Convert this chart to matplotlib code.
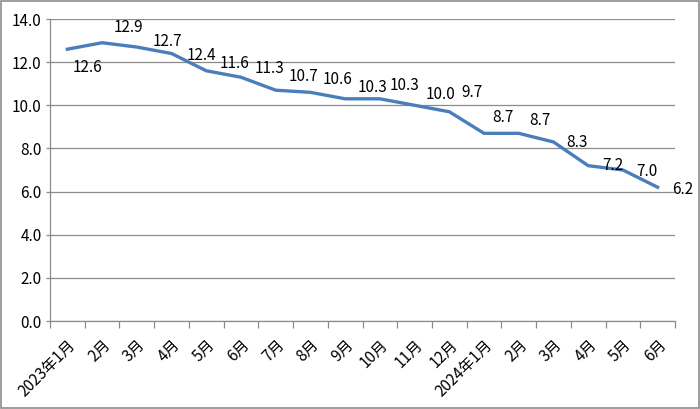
import matplotlib
matplotlib.use('Agg')
from matplotlib import pyplot as plt
from matplotlib.patches import Rectangle

plt.rcParams['font.family'] = ['Noto Sans CJK SC', 'DejaVu Sans']

months = ['2023年1月', '2月', '3月', '4月', '5月', '6月', '7月', '8月', '9月',
          '10月', '11月', '12月', '2024年1月', '2月', '3月', '4月', '5月', '6月']
values = [12.6, 12.9, 12.7, 12.4, 11.6, 11.3, 10.7, 10.6, 10.3,
          10.3, 10.0, 9.7, 8.7, 8.7, 8.3, 7.2, 7.0, 6.2]
y_ticks = [0, 2, 4, 6, 8, 10, 12, 14]

# 数据标签偏移（像素）
label_dx = [20, 26, 31, 30, 28, 29, 28, 27, 27, 25, 26, 23, 19, 21, 23, 25, 24, 25]
label_dy = [-18, 15, 6, -2, 7, 9, 14, 13, 11, 13, 11, 19, 16, 13, -1, 0, -2, -2]

fig = plt.figure(figsize=(7, 4.09), dpi=100)
ax = fig.add_axes([50/700, 1-321/409, 625/700, 302/409])
x = list(range(len(values)))
ax.plot(x, values, color='#4a7ebb', linewidth=2.4, solid_joinstyle='round')

for i, v in enumerate(values):
    ax.annotate('%.1f' % v, (i, v), xytext=(label_dx[i]*0.72, label_dy[i]*0.72),
                textcoords='offset points', ha='center', va='center',
                fontsize=11, color='black')

ax.set_xlim(-0.5, len(values) - 0.5)
ax.set_ylim(0, 14)
ax.set_yticks(y_ticks)
ax.set_yticklabels(['%.1f' % t for t in y_ticks], fontsize=11)
ax.yaxis.grid(True, color='#8c8c8c', linewidth=0.9)
ax.set_axisbelow(True)

ax.set_xticks(x)
ax.set_xticklabels(months, rotation=45, ha='right', rotation_mode='anchor',
                   fontsize=11)
ax.tick_params(axis='x', which='major', length=0, pad=11)
ax.set_xticks([i - 0.5 for i in range(len(values) + 1)], minor=True)
ax.tick_params(axis='x', which='minor', length=5, color='#8c8c8c', width=0.9)
ax.tick_params(axis='y', length=3, color='#8c8c8c', width=0.9, pad=3)

for s in ['top', 'right']:
    ax.spines[s].set_visible(False)
for s in ['left', 'bottom']:
    ax.spines[s].set_color('#8c8c8c')
    ax.spines[s].set_linewidth(0.9)

fig.patches.append(Rectangle((0.001, 0.002), 0.997, 0.995, transform=fig.transFigure,
                             fill=False, edgecolor='#8c8c8c', linewidth=1.2))

fig.savefig('out.png', dpi=100)
